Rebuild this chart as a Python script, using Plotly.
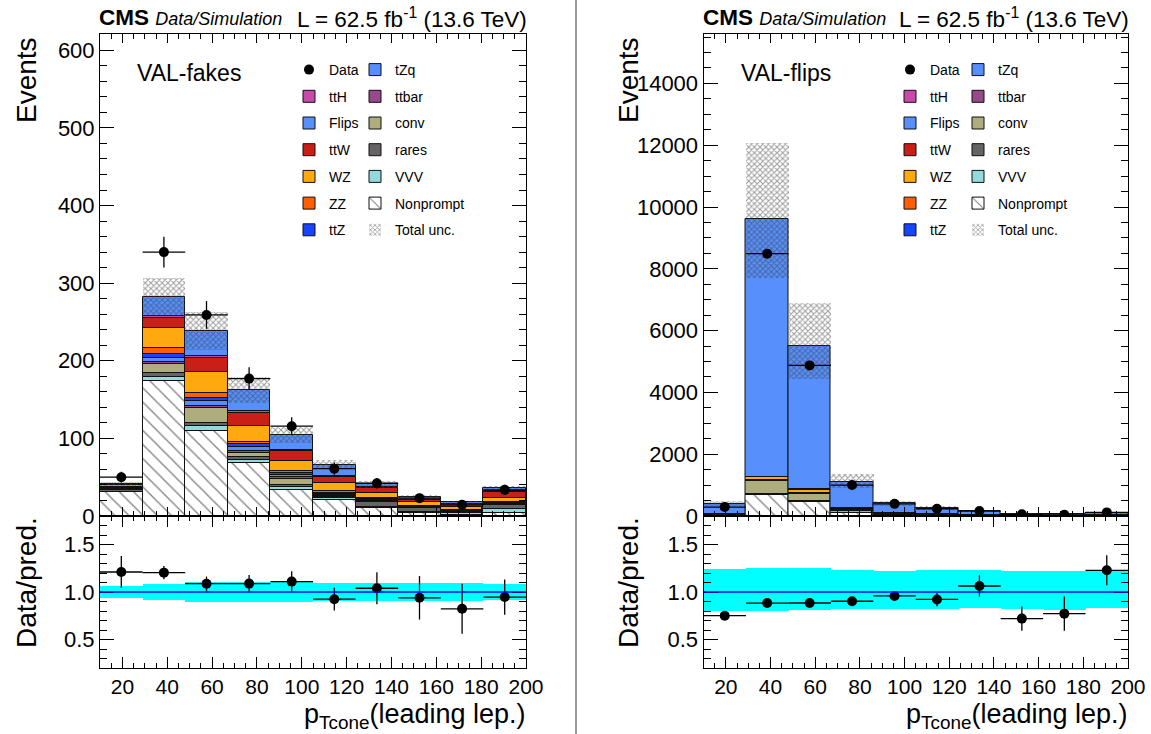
import numpy as np
import plotly.graph_objects as go

# ---------------- binning ----------------
bin_edges = [10, 29, 48, 67, 86, 105, 124, 143, 162, 181, 200]
x_ticks = [20, 40, 60, 80, 100, 120, 140, 160, 180, 200]

# ---------------- VAL-fakes region ----------------
fakes_nonprompt = [31, 173.6, 109.8, 68.1, 34, 20.4, 10.5, 4.1, 1.5, 4]
fakes_vvv = [0.3, 5.1, 6, 4.2, 3.4, 2.6, 1.3, 0.9, 2, 5.2]
fakes_rares = [2.5, 5.1, 3.4, 4.3, 3, 1.3, 6, 4.7, 1.5, 5.6]
fakes_conv = [1.5, 11.9, 20.4, 5.1, 7.3, 2.1, 1.3, 0.8, 0.5, 0.5]
fakes_ttbar = [0.3, 2.1, 2.5, 2.6, 2.1, 0.9, 0.9, 0.3, 0.3, 0.3]
fakes_tzq = [0.3, 6.4, 6, 5.1, 3, 1.3, 1.3, 0.5, 0.5, 0.5]
fakes_ttz = [0.3, 4.2, 4.2, 3, 2.9, 1.3, 0.8, 0.5, 0.5, 0.5]
fakes_zz = [0.8, 7.7, 6, 3.4, 2.2, 1.7, 1.3, 0.7, 0.7, 1]
fakes_wz = [2.5, 26.4, 27.7, 20.4, 13.2, 10.3, 6.5, 5, 4, 5.5]
fakes_ttw = [1.2, 12.7, 17.8, 17, 12.7, 8.2, 6.4, 3.4, 3.5, 8]
fakes_tth = [0.2, 2.6, 2.1, 1.7, 1.3, 1.3, 0.9, 0.3, 0.3, 0.5]
fakes_flips = [0.4, 24.7, 32.3, 27.7, 19.2, 14.6, 3.4, 3.3, 2.2, 4]
fakes_data = [50, 340, 259, 177, 115.7, 61, 42.2, 23, 14.4, 33.7]
fakes_data_err = [7, 19.8, 17.9, 14.6, 11.5, 7.9, 6.8, 5.6, 4.6, 6.6]
fakes_unc_up = [2.5, 24.6, 24.3, 17, 10.6, 6, 4, 2.2, 1.6, 3]
fakes_unc_down = [2.5, 24.6, 24.3, 17, 10.6, 6, 4, 2.2, 1.6, 3]

# ---------------- VAL-flips region ----------------
flips_nonprompt = [20, 680, 463, 100, 30, 15, 8, 4, 3, 6]
flips_vvv = [1, 5, 3, 2, 1, 1, 1, 0.5, 0.5, 1]
flips_rares = [5, 15, 20, 10, 8, 6, 4, 2, 1.5, 3]
flips_conv = [15, 420, 230, 40, 12, 6, 3, 1.5, 1, 2]
flips_ttbar = [2, 10, 8, 5, 3, 2, 1, 0.5, 0.3, 0.5]
flips_tzq = [5, 15, 12, 10, 8, 6, 4, 2, 1.5, 3]
flips_ttz = [3, 10, 8, 6, 5, 4, 3, 1.5, 1, 2]
flips_zz = [3, 15, 12, 8, 4, 3, 2, 1, 0.7, 1.5]
flips_wz = [10, 80, 80, 60, 25, 15, 9, 5, 3.5, 7]
flips_ttw = [4, 20, 20, 15, 12, 10, 7, 4, 3, 6]
flips_tth = [1, 5, 4, 3, 2, 2, 1, 0.5, 0.3, 0.5]
flips_flips = [316, 8332, 4654, 851, 300, 185, 107, 52.5, 33.7, 62.5]
flips_data = [289, 8490, 4875, 1002, 393, 235, 159.5, 54, 38.6, 116.7]
flips_data_err = [17, 92, 70, 32, 20, 18, 17, 9.5, 9, 15]
flips_unc_up = [92, 2470, 1380, 262, 89, 59, 34.5, 16.4, 10.9, 22.4]
flips_unc_down = [75, 1920, 1070, 200, 74, 46, 26, 13.2, 9.4, 15.7]

# stacking order, bottom to top
process_order = ["Nonprompt", "VVV", "rares", "conv", "ttbar", "tZq",
                 "ttZ", "ZZ", "WZ", "ttW", "ttH", "Flips"]
process_colors = {
    "Nonprompt": "#ffffff", "VVV": "#92dadd", "rares": "#656364",
    "conv": "#adad7d", "ttbar": "#964a8b", "tZq": "#578dff",
    "ttZ": "#1845fb", "ZZ": "#ff5e02", "WZ": "#ffa90e",
    "ttW": "#c91f16", "ttH": "#c849a9", "Flips": "#5790fc",
}
# two legend columns per panel
legend_col1 = ["Data", "ttH", "Flips", "ttW", "WZ", "ZZ", "ttZ"]
legend_col2 = ["tZq", "ttbar", "conv", "rares", "VVV", "Nonprompt", "Total unc."]

fakes = dict(zip(process_order, [fakes_nonprompt, fakes_vvv, fakes_rares, fakes_conv,
                                 fakes_ttbar, fakes_tzq, fakes_ttz, fakes_zz, fakes_wz,
                                 fakes_ttw, fakes_tth, fakes_flips]))
flips = dict(zip(process_order, [flips_nonprompt, flips_vvv, flips_rares, flips_conv,
                                 flips_ttbar, flips_tzq, flips_ttz, flips_zz, flips_wz,
                                 flips_ttw, flips_tth, flips_flips]))

# ---------------- page geometry ----------------
W, H = 1151, 734
ML, MR, MT, MB = 100, 23, 34, 66
PW, PH = W - ML - MR, H - MT - MB


def px(xp):
    return (xp - ML) / PW


def py(yp):
    return (H - MB - yp) / PH


FONT = "Liberation Sans, Arial, sans-serif"
edges = np.array(bin_edges, dtype=float)
centers = 0.5 * (edges[1:] + edges[:-1])
widths = edges[1:] - edges[:-1]

fig = go.Figure()


def add_panel(procs, data, data_err, unc_up, unc_down, xa, ya, xr, yr, legs, tag):
    leg1, leg2 = legs
    which_legend = {n: leg1 for n in legend_col1}
    which_legend.update({n: leg2 for n in legend_col2})
    order_rank = {n: i for i, n in enumerate(legend_col1)}
    order_rank.update({n: i for i, n in enumerate(legend_col2)})

    base = np.zeros(len(centers))
    for name in process_order:
        vals = np.array(procs[name], dtype=float)
        marker = dict(color=process_colors[name], line=dict(color="#111111", width=1))
        if name == "Nonprompt":
            marker["pattern"] = dict(shape="\\", fgcolor="#111111", bgcolor="#ffffff",
                                     size=10, solidity=0.14)
        fig.add_trace(go.Bar(
            x=centers, y=vals, base=base.copy(), width=widths, name=name,
            marker=marker, xaxis=xa, yaxis=ya,
            legend=which_legend[name], legendgroup=tag + name,
            legendrank=order_rank[name], showlegend=True,
        ))
        base = base + vals
    total = base
    up = np.array(unc_up, dtype=float)
    dn = np.array(unc_down, dtype=float)
    fig.add_trace(go.Bar(
        x=centers, y=up + dn, base=total - dn, width=widths, name="Total unc.",
        marker=dict(color="rgba(0,0,0,0)", line=dict(width=0),
                    pattern=dict(shape="x", fgcolor="#3c3c3c", bgcolor="rgba(0,0,0,0)",
                                 size=4, solidity=0.45)),
        xaxis=xa, yaxis=ya, legend=which_legend["Total unc."],
        legendgroup=tag + "unc", legendrank=order_rank["Total unc."],
    ))
    d = np.array(data, dtype=float)
    de = np.array(data_err, dtype=float)
    fig.add_trace(go.Scatter(
        x=centers, y=d, mode="markers", name="Data",
        marker=dict(color="black", size=10, symbol="circle"),
        error_y=dict(type="data", array=de, color="black", thickness=1.3, width=0),
        error_x=dict(type="data", array=widths / 2, color="black", thickness=1.3, width=0),
        xaxis=xa, yaxis=ya, legend=which_legend["Data"],
        legendgroup=tag + "data", legendrank=order_rank["Data"],
    ))

    # ratio panel
    fig.add_trace(go.Bar(
        x=centers, y=(up + dn) / total, base=1 - dn / total, width=widths,
        marker=dict(color="#00ffff", line=dict(width=0)),
        xaxis=xr, yaxis=yr, showlegend=False,
    ))
    fig.add_shape(type="line", xref=xr + " domain", yref=yr, x0=0, x1=1, y0=1, y1=1,
                  line=dict(color="#0000ff", width=1.6))
    fig.add_trace(go.Scatter(
        x=centers, y=d / total, mode="markers",
        marker=dict(color="black", size=10),
        error_y=dict(type="data", array=de / total, color="black", thickness=1.3, width=0),
        error_x=dict(type="data", array=widths / 2, color="black", thickness=1.3, width=0),
        xaxis=xr, yaxis=yr, showlegend=False,
    ))


add_panel(fakes, fakes_data, fakes_data_err, fakes_unc_up, fakes_unc_down,
          "x", "y", "x2", "y2", ("legend", "legend2"), "f")
add_panel(flips, flips_data, flips_data_err, flips_unc_up, flips_unc_down,
          "x3", "y3", "x4", "y4", ("legend3", "legend4"), "p")

xdom_left = [0, px(526)]
xdom_right = [px(703.5), 1]
ydom_main = [py(516), 1]
ydom_ratio = [0, py(516)]

tickfont = dict(family=FONT, size=21, color="black")


def xaxis(domain, anchor, labels):
    return dict(domain=domain, anchor=anchor, range=[10, 200], tickvals=x_ticks,
                showticklabels=labels, ticks="inside", ticklen=11 if labels else 9,
                tickcolor="black", tickwidth=1, mirror="ticks", showline=True,
                linecolor="black", linewidth=1, showgrid=False, zeroline=False,
                minor=dict(dtick=5, tick0=10, ticks="inside", ticklen=5, tickcolor="black",
                           tickwidth=1, showgrid=False),
                tickfont=tickfont)


def yaxis(domain, anchor, rng, dtick, minor, fmt=None):
    d = dict(domain=domain, anchor=anchor, range=rng, dtick=dtick, tick0=0,
             ticks="inside", ticklen=14, tickcolor="black", tickwidth=1, mirror="ticks",
             showline=True, linecolor="black", linewidth=1, showgrid=False,
             zeroline=False, tickfont=dict(family=FONT, size=22, color="black"),
             tickformat=fmt or "d",
             minor=dict(dtick=minor, ticks="inside", ticklen=7, tickcolor="black",
                        tickwidth=1, showgrid=False))
    return d


fig.update_layout(
    width=W, height=H, margin=dict(l=ML, r=MR, t=MT, b=MB, autoexpand=False),
    paper_bgcolor="white", plot_bgcolor="white", barmode="overlay", bargap=0,
    font=dict(family=FONT, color="black"),
    xaxis=xaxis(xdom_left, "y", False),
    yaxis=yaxis(ydom_main, "x", [0, 621], 100, 20),
    xaxis2=xaxis(xdom_left, "y2", True),
    yaxis2=yaxis(ydom_ratio, "x2", [0.2, 1.8], 0.5, 0.1, ".1f"),
    xaxis3=xaxis(xdom_right, "y3", False),
    yaxis3=yaxis(ydom_main, "x3", [0, 15600], 2000, 500),
    xaxis4=xaxis(xdom_right, "y4", True),
    yaxis4=yaxis(ydom_ratio, "x4", [0.2, 1.8], 0.5, 0.1, ".1f"),
    showlegend=True,
)
fig.update_yaxes(tickvals=[0.5, 1.0, 1.5], selector=dict(anchor="x2"))
fig.update_yaxes(tickvals=[0.5, 1.0, 1.5], selector=dict(anchor="x4"))

legend_common = dict(bgcolor="rgba(0,0,0,0)", borderwidth=0, font=dict(family=FONT, size=14),
                     tracegroupgap=5.5, xanchor="left", yanchor="top",
                     traceorder="grouped", itemclick=False, itemdoubleclick=False)
fig.update_layout(
    legend=dict(x=px(289), y=py(54), **legend_common),
    legend2=dict(x=px(355), y=py(54), **legend_common),
    legend3=dict(x=px(890), y=py(54), **legend_common),
    legend4=dict(x=px(958), y=py(54), **legend_common),
)

# headers, region labels and axis titles
for left, right in [(100, 526), (703.5, 1128)]:
    fig.add_annotation(xref="paper", yref="paper", x=px(left - 3), y=py(18), xanchor="left",
                       yanchor="middle", showarrow=False,
                       text="<b>CMS</b> <i><span style='font-size:18px'>Data/Simulation</span></i>",
                       font=dict(family=FONT, size=22.5))
    fig.add_annotation(xref="paper", yref="paper", x=px(right + 3), y=py(18), xanchor="right",
                       yanchor="middle", showarrow=False,
                       text="L = 62.5 fb<sup>-1</sup> (13.6 TeV)",
                       font=dict(family=FONT, size=22.5))
    fig.add_annotation(xref="paper", yref="paper", x=px(right + 2), y=py(697), xanchor="right",
                       yanchor="top", showarrow=False,
                       text="p<sub>Tcone</sub>(leading lep.)",
                       font=dict(family=FONT, size=27))

for xc, label in [(137, "VAL-fakes"), (741, "VAL-flips")]:
    fig.add_annotation(xref="paper", yref="paper", x=px(xc - 2), y=py(73), xanchor="left",
                       yanchor="middle", showarrow=False, text=label,
                       font=dict(family=FONT, size=23))

for xc in [26, 628]:
    fig.add_annotation(xref="paper", yref="paper", x=px(xc), y=py(35), xanchor="center",
                       yanchor="top", showarrow=False, text="Events", textangle=-90,
                       font=dict(family=FONT, size=28))
    fig.add_annotation(xref="paper", yref="paper", x=px(xc), y=py(583), xanchor="center",
                       yanchor="middle", showarrow=False, text="Data/pred.", textangle=-90,
                       font=dict(family=FONT, size=28))

# divider between the two canvases
fig.add_shape(type="line", xref="paper", yref="paper", x0=px(576), x1=px(576),
              y0=py(H), y1=py(0), line=dict(color="#777777", width=1.5))

fig.write_html("out.html")
